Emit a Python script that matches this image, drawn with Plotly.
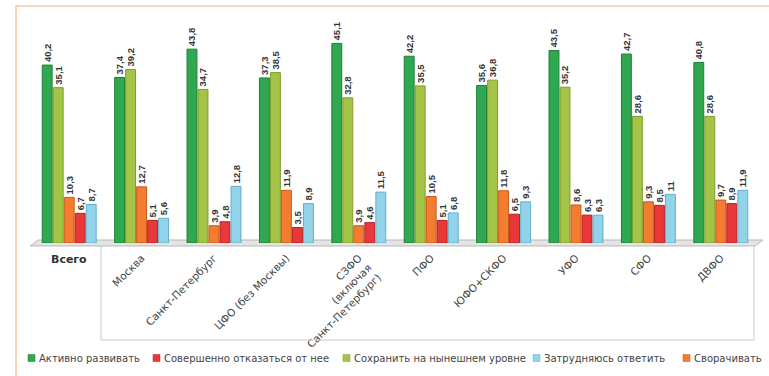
import plotly.graph_objects as go

categories = ["Всего", "Москва", "Санкт-Петербург", "ЦФО (без Москвы)",
              "СЗФО<br>(включая<br>Санкт-Петербург)", "ПФО", "ЮФО+СКФО", "УФО", "СФО", "ДВФО"]

active = [40.2, 37.4, 43.8, 37.3, 45.1, 42.2, 35.6, 43.5, 42.7, 40.8]
keep = [35.1, 39.2, 34.7, 38.5, 32.8, 35.5, 36.8, 35.2, 28.6, 28.6]
reduce_ = [10.3, 12.7, 3.9, 11.9, 3.9, 10.5, 11.8, 8.6, 9.3, 9.7]
abandon = [6.7, 5.1, 4.8, 3.5, 4.6, 5.1, 6.5, 6.3, 8.5, 8.9]
unsure = [8.7, 5.6, 12.8, 8.9, 11.5, 6.8, 9.3, 6.3, 11.0, 11.9]

series = [
    ("Активно развивать", active, "#2fa84f", "#1f7f38"),
    ("Сохранить на нынешнем уровне", keep, "#a3c447", "#7f9c2c"),
    ("Сворачивать", reduce_, "#f47c30", "#c95a16"),
    ("Совершенно отказаться от нее", abandon, "#e8383a", "#b82024"),
    ("Затрудняюсь ответить", unsure, "#93d3ea", "#5fb0cc"),
]
legend_order = ["Активно развивать", "Совершенно отказаться от нее",
                "Сохранить на нынешнем уровне", "Затрудняюсь ответить", "Сворачивать"]
legend_px = [28, 153, 343, 533, 683]

W, H = 769, 376
ML, MR, MT, MB = 33, 12, 35, 133
PW, PH = W - ML - MR, H - MT - MB

def px(x):
    return (x - ML) / PW

def py(y):
    return (H - MB - y) / PH

def fmt(v):
    return ("%g" % v).replace(".", ",")

xs = list(range(len(categories)))
fig = go.Figure()
colors = {}
for name, vals, col, lc in series:
    colors[name] = (col, lc)
    fig.add_trace(go.Bar(
        x=xs, y=vals, name=name,
        marker=dict(color=col, line=dict(color=lc, width=1)),
        text=[fmt(v) for v in vals], textposition="outside", textangle=-90,
        constraintext="none", cliponaxis=False,
        textfont=dict(family="Liberation Sans Narrow, Arial Narrow, Liberation Sans", size=9.5,
                      color="#333333", weight="bold"),
    ))

ticktext = [""] + categories[1:]

shapes = [
    dict(type="rect", xref="paper", yref="paper", x0=px(16), x1=px(790), y0=py(400), y1=py(6),
         line=dict(color="#f5c9a8", width=1.5), fillcolor="rgba(0,0,0,0)", layer="below"),
    dict(type="path", xref="paper", yref="paper",
         path="M %f,%f L %f,%f L %f,%f L %f,%f Z" % (px(30), py(246), px(755), py(246), px(763), py(240), px(38), py(240)),
         fillcolor="#e4e4e4", line=dict(color="#b8b8b8", width=1), layer="below"),
    dict(type="line", xref="paper", yref="paper", x0=px(101), x1=px(101), y0=py(246), y1=py(340),
         line=dict(color="#c8c8c8", width=1)),
    dict(type="line", xref="paper", yref="paper", x0=px(101), x1=px(754), y0=py(340), y1=py(340),
         line=dict(color="#c8c8c8", width=1)),
    dict(type="line", xref="paper", yref="paper", x0=px(754), x1=px(754), y0=py(246), y1=py(340),
         line=dict(color="#c8c8c8", width=1)),
]

annotations = [dict(xref="x", yref="paper", x=0, y=py(268), text="<b>Всего</b>", showarrow=False,
                    font=dict(family="DejaVu Sans", size=11, color="#333333"))]

ly = 358
for name, lx in zip(legend_order, legend_px):
    col, lc = colors[name]
    shapes.append(dict(type="rect", xref="paper", yref="paper", x0=px(lx), x1=px(lx + 7),
                       y0=py(ly + 3.5), y1=py(ly - 3.5), fillcolor=col, line=dict(color=lc, width=0.5)))
    annotations.append(dict(xref="paper", yref="paper", x=px(lx + 9), y=py(ly), xanchor="left",
                            yanchor="middle", text=name, showarrow=False,
                            font=dict(family="DejaVu Sans", size=10, color="#444444")))

fig.update_layout(
    width=W, height=H,
    margin=dict(l=ML, r=MR, t=MT, b=MB, autoexpand=False),
    paper_bgcolor="white", plot_bgcolor="white",
    barmode="group", bargap=0.24, bargroupgap=0.1,
    showlegend=False,
    xaxis=dict(range=[-0.5, 9.5], tickmode="array", tickvals=xs, ticktext=ticktext,
               tickangle=-45, showgrid=False, zeroline=False, showline=False, ticks="",
               ticklabelstandoff=6, automargin=False,
               tickfont=dict(family="DejaVu Sans", size=10.5, color="#444444")),
    yaxis=dict(range=[0, 47], visible=False),
    shapes=shapes,
    annotations=annotations,
)

fig.write_html("out.html")
